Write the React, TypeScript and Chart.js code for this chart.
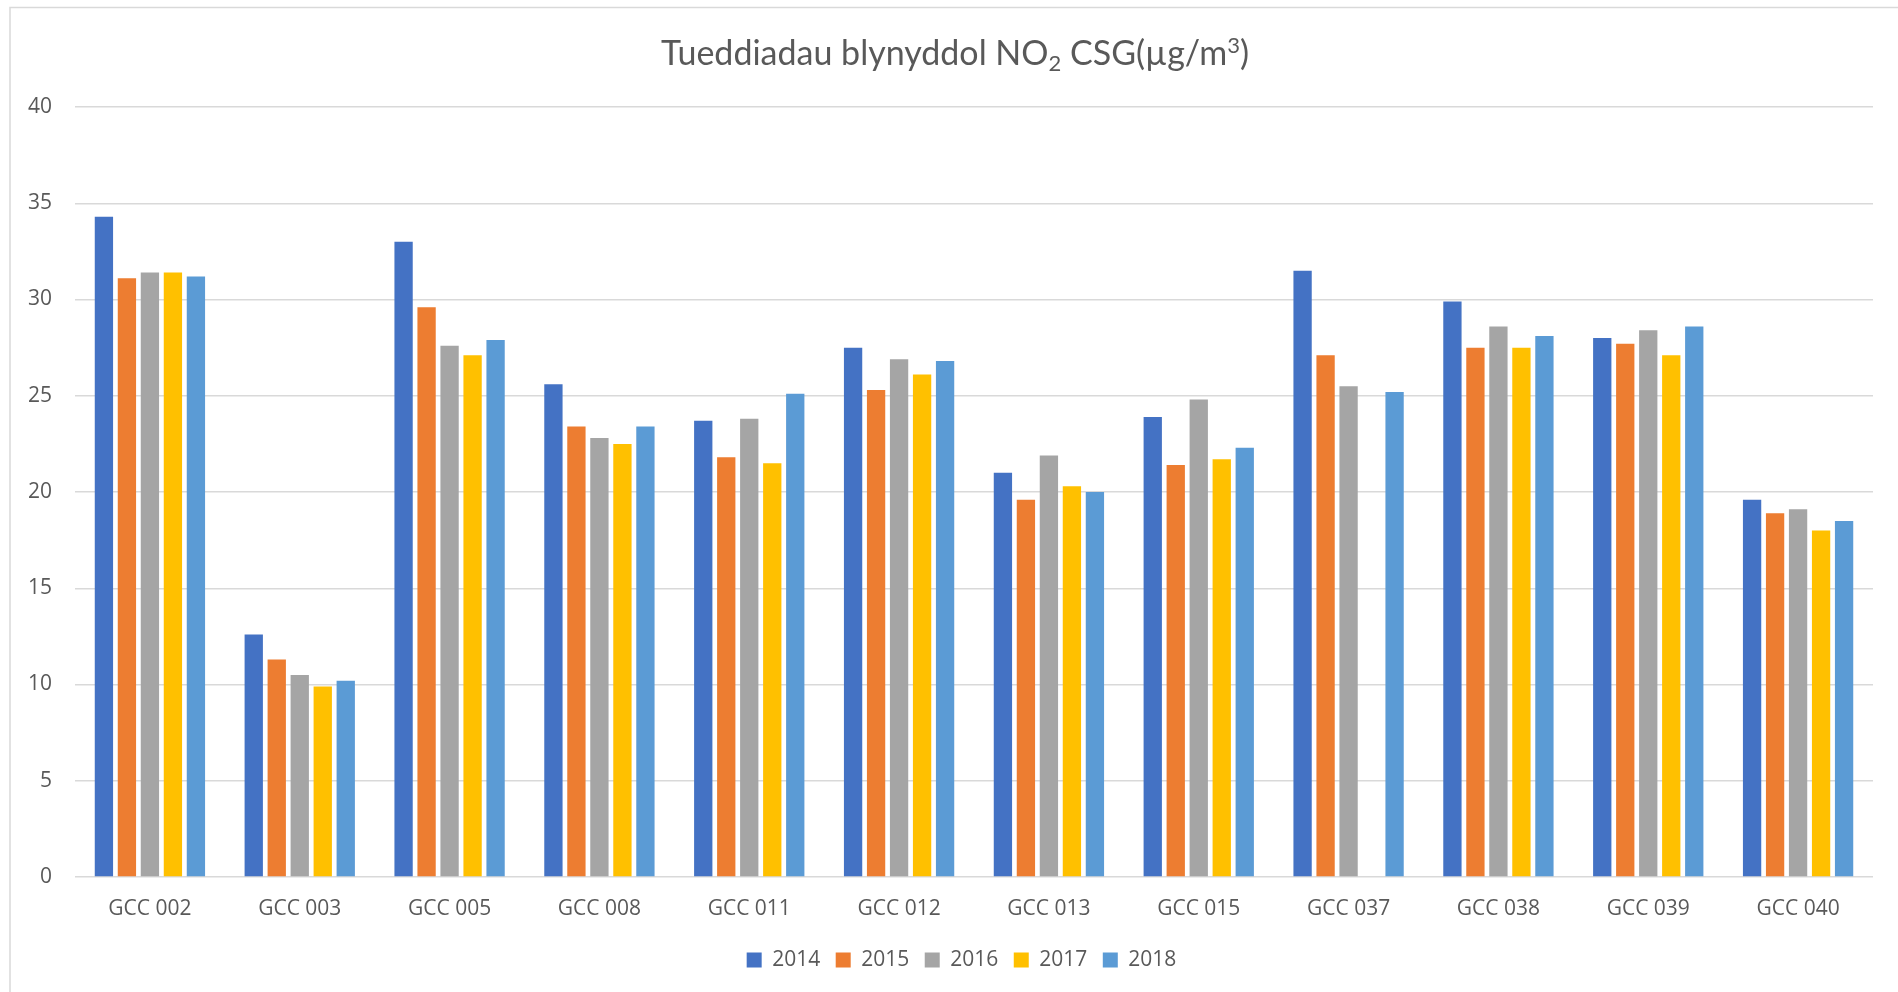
import React, { useEffect, useRef } from "react";
import { Chart, registerables } from "chart.js";

Chart.register(...registerables);

const categories = [
  "GCC 002", "GCC 003", "GCC 005", "GCC 008", "GCC 011", "GCC 012",
  "GCC 013", "GCC 015", "GCC 037", "GCC 038", "GCC 039", "GCC 040",
];
const seriesLabels = ["2014", "2015", "2016", "2017", "2018"];
const values2014 = [34.3, 12.6, 33.0, 25.6, 23.7, 27.5, 21.0, 23.9, 31.5, 29.9, 28.0, 19.6];
const values2015 = [31.1, 11.3, 29.6, 23.4, 21.8, 25.3, 19.6, 21.4, 27.1, 27.5, 27.7, 18.9];
const values2016 = [31.4, 10.5, 27.6, 22.8, 23.8, 26.9, 21.9, 24.8, 25.5, 28.6, 28.4, 19.1];
const values2017 = [31.4, 9.9, 27.1, 22.5, 21.5, 26.1, 20.3, 21.7, null, 27.5, 27.1, 18.0];
const values2018 = [31.2, 10.2, 27.9, 23.4, 25.1, 26.8, 20.0, 22.3, 25.2, 28.1, 28.6, 18.5];
const seriesColors = ["#4472C4", "#ED7D31", "#A5A5A5", "#FFC000", "#5B9BD5"];
const yMin = 0;
const yMax = 40;
const yStep = 5;
const titleParts = [
  { text: "Tueddiadau blynyddol NO", kind: "normal" },
  { text: "2", kind: "sub" },
  { text: " CSG(µg/m", kind: "normal" },
  { text: "3", kind: "sup" },
  { text: ")", kind: "normal" },
];

const TEXT_COLOR = "#595959";
const GRID_COLOR = "#d9d9d9";
const FONT = "'Open Sans', sans-serif";
const TITLE_FONT = "Lato, 'Open Sans', sans-serif";

const frameAndTitle = {
  id: "frameAndTitle",
  afterLayout(chart: any) {
    const legend = chart.legend;
    if (legend) {
      legend.left += 20;
      legend.right += 20;
    }
  },
  beforeDraw(chart: any) {
    const ctx = chart.ctx;
    ctx.save();
    ctx.strokeStyle = GRID_COLOR;
    ctx.lineWidth = 1.5;
    ctx.strokeRect(10, 7.5, 3000, 3000);
    ctx.restore();
  },
  afterDraw(chart: any) {
    const ctx = chart.ctx;
    const mainSize = 34;
    const smallSize = 22;
    ctx.save();
    ctx.fillStyle = TEXT_COLOR;
    ctx.textBaseline = "alphabetic";
    ctx.textAlign = "left";
    const fontFor = (kind: string) =>
      `${kind === "normal" ? mainSize : smallSize}px ${TITLE_FONT}`;
    let total = 0;
    const widths = titleParts.map((p) => {
      ctx.font = fontFor(p.kind);
      const w = ctx.measureText(p.text).width;
      total += w;
      return w;
    });
    const centerX = 955;
    const baseline = 65;
    let x = centerX - total / 2;
    titleParts.forEach((p, i) => {
      ctx.font = fontFor(p.kind);
      let y = baseline;
      if (p.kind === "sub") y = baseline + 6;
      if (p.kind === "sup") y = baseline - 12;
      ctx.fillText(p.text, x, y);
      x += widths[i];
    });
    ctx.restore();
  },
};

export default function App() {
  const canvasRef = useRef<HTMLCanvasElement | null>(null);

  useEffect(() => {
    document.body.style.margin = "0";
    document.body.style.overflow = "hidden";
    const canvas = canvasRef.current;
    if (!canvas) return;
    const dataArrays = [values2014, values2015, values2016, values2017, values2018];
    const chart = new Chart(canvas, {
      type: "bar",
      data: {
        labels: categories,
        datasets: seriesLabels.map((label, i) => ({
          label,
          data: dataArrays[i],
          backgroundColor: seriesColors[i],
          borderWidth: 0,
          categoryPercentage: 0.7675,
          barPercentage: 0.796,
        })),
      },
      options: {
        responsive: false,
        animation: false,
        devicePixelRatio: 1,
        layout: {
          padding: { left: 10, right: 25, top: 107, bottom: 11.5 },
        },
        plugins: {
          title: { display: false },
          tooltip: { enabled: false },
          legend: {
            position: "bottom",
            labels: {
              color: TEXT_COLOR,
              font: { family: FONT, size: 21 },
              boxWidth: 15,
              boxHeight: 15,
              padding: 15.5,
            },
          },
        },
        scales: {
          x: {
            grid: { display: false, drawTicks: false },
            border: { display: false },
            ticks: {
              color: TEXT_COLOR,
              font: { family: FONT, size: 21 },
              padding: 19,
              maxRotation: 0,
              autoSkip: false,
            },
            afterFit(scale: any) {
              scale.height = 57;
            },
          },
          y: {
            min: yMin,
            max: yMax,
            grid: { color: GRID_COLOR, lineWidth: 1.5, drawTicks: false },
            border: { display: false },
            ticks: {
              stepSize: yStep,
              color: TEXT_COLOR,
              font: { family: FONT, size: 21 },
              padding: 23,
            },
            afterFit(scale: any) {
              scale.width = 65;
            },
          },
        },
      },
      plugins: [frameAndTitle],
    });
    return () => chart.destroy();
  }, []);

  return (
    <canvas
      ref={canvasRef}
      width={1898}
      height={992}
      style={{ display: "block", width: 1898, height: 992 }}
    />
  );
}
